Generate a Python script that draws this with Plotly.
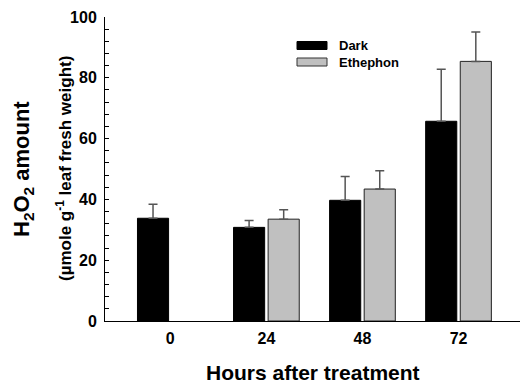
import plotly.graph_objects as go

hours = ["0", "24", "48", "72"]
dark_x = [0, 1, 2, 3]
dark_vals = [33.8, 30.8, 39.7, 65.7]
dark_err = [4.6, 2.3, 7.8, 17.1]
eth_x = [1, 2, 3]
eth_vals = [33.5, 43.4, 85.4]
eth_err = [3.1, 6.0, 9.7]

W, H = 520, 385
L, R, T, B = 105, 0, 17, 64
pw, ph = W - L - R, H - T - B

FONT = "Liberation Sans, Arial, sans-serif"

fig = go.Figure()
fig.add_trace(go.Bar(
    x=dark_x, y=dark_vals, name="Dark", offsetgroup="dark",
    marker=dict(color="black", line=dict(color="black", width=1)),
    error_y=dict(type="data", array=dark_err, arrayminus=[0]*len(dark_err), symmetric=False,
                 color="#555555", thickness=1.5, width=4.5),
    showlegend=False,
))
fig.add_trace(go.Bar(
    x=eth_x, y=eth_vals, name="Ethephon", offsetgroup="eth",
    marker=dict(color="#c0c0c0", line=dict(color="#222222", width=1)),
    error_y=dict(type="data", array=eth_err, arrayminus=[0]*len(eth_err), symmetric=False,
                 color="#555555", thickness=1.5, width=4.5),
    showlegend=False,
))

def px_x(p):
    return (p - L) / pw

def px_y(p):
    return (H - B - p) / ph

# custom legend
legend_items = [("Dark", "black", "black", 41.5, 49.5), ("Ethephon", "#c0c0c0", "#333333", 58, 66)]
for name, fill, line, y0, y1 in legend_items:
    fig.add_shape(type="rect", xref="paper", yref="paper",
                  x0=px_x(297), x1=px_x(327), y0=px_y(y1), y1=px_y(y0),
                  fillcolor=fill, line=dict(color=line, width=1))
    fig.add_annotation(xref="paper", yref="paper", x=px_x(337), y=px_y((y0 + y1) / 2),
                       text=name, showarrow=False, xanchor="left", yanchor="middle",
                       font=dict(family=FONT, size=13, color="black", weight="bold"))

# y titles
fig.add_annotation(xref="paper", yref="paper", x=0, y=0.5, xshift=-(L - 23),
                   text="H<sub>2</sub>O<sub>2</sub> amount", textangle=-90,
                   showarrow=False, xanchor="center", yanchor="middle",
                   font=dict(family=FONT, size=22, color="black", weight="bold"))
fig.add_annotation(xref="paper", yref="paper", x=0, y=0.5, xshift=-(L - 64),
                   text="(µmole g<sup>-1</sup> leaf fresh weight)", textangle=-90,
                   showarrow=False, xanchor="center", yanchor="middle",
                   font=dict(family=FONT, size=17, color="black", weight="bold"))
# x title
fig.add_annotation(xref="paper", yref="paper", x=0.5, y=0, yshift=-(372 - (H - B)),
                   text="Hours after treatment", showarrow=False,
                   xanchor="center", yanchor="middle",
                   font=dict(family=FONT, size=21, color="black", weight="bold"))

fig.update_layout(
    width=W, height=H,
    margin=dict(l=L, r=R, t=T, b=B),
    paper_bgcolor="white", plot_bgcolor="white",
    barmode="group", bargap=0.28, bargroupgap=0.1,
    font=dict(family=FONT, color="black"),
)
fig.update_xaxes(
    range=[-0.68, 3.64], tickmode="array", tickvals=[0, 1, 2, 3], ticktext=hours,
    showline=True, linecolor="black", linewidth=1, ticks="", showgrid=False, zeroline=False,
    tickfont=dict(family=FONT, size=16, color="black", weight="bold"),
    ticklabelstandoff=3,
)
fig.update_yaxes(
    range=[0, 100], dtick=20, tickmode="linear", tick0=0,
    showline=True, linecolor="black", linewidth=1,
    ticks="inside", ticklen=4, tickcolor="black", tickwidth=1,
    minor=dict(dtick=4, ticks="inside", ticklen=4, tickcolor="black", showgrid=False),
    showgrid=False, zeroline=False,
    tickfont=dict(family=FONT, size=16, color="black", weight="bold"),
    ticklabelstandoff=4,
)

fig.write_html("out.html", config={"displayModeBar": False},
               post_script=("document.body.style.margin='0';document.body.style.overflow='hidden';"
                            "document.documentElement.style.overflow='hidden';"))
